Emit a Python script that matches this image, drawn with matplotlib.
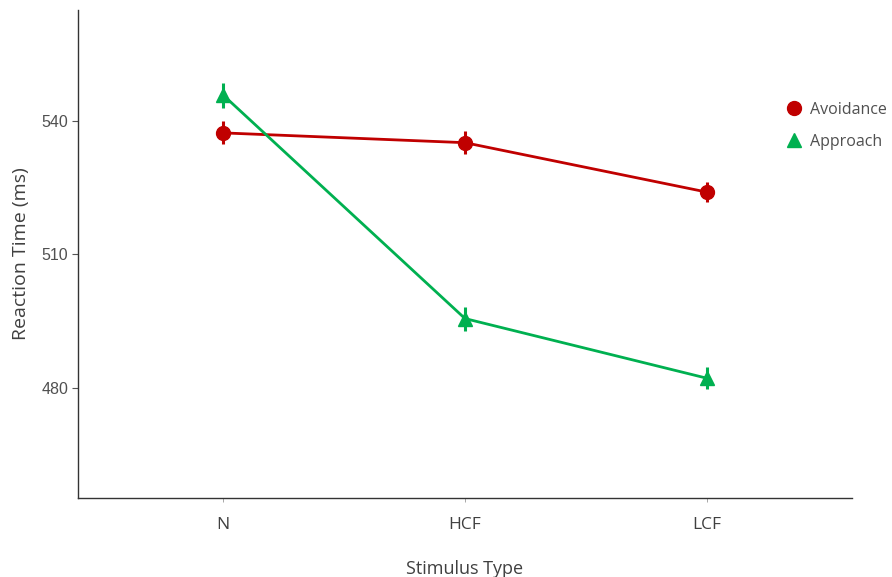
import matplotlib
matplotlib.use("Agg")
import matplotlib.pyplot as plt
from matplotlib.lines import Line2D

categories = ["N", "HCF", "LCF"]
avoidance = [537.3, 535.1, 524.0]
avoidance_err = [2.6, 2.6, 2.3]
approach = [545.8, 495.6, 482.2]
approach_err = [2.8, 2.7, 2.5]
yticks = [480, 510, 540]

RED = "#C00000"
GREEN = "#00B050"

fig = plt.figure(figsize=(8.92, 5.77), dpi=100)
ax = fig.add_axes([78/892, 1-498/577, (852-78)/892, (498-10)/577])

x = list(range(1, len(categories) + 1))
ax.errorbar(x, avoidance, yerr=avoidance_err, color=RED, marker="o", markersize=10,
            linewidth=2, elinewidth=2.2, capsize=0, zorder=3)
ax.errorbar(x, approach, yerr=approach_err, color=GREEN, marker="^", markersize=10,
            linewidth=2, elinewidth=2.2, capsize=0, zorder=3)

ax.set_xlim(0.4, 3.6)
ax.set_ylim(455.3, 564.9)
ax.set_xticks(x)
ax.set_xticklabels(categories, fontfamily="Open Sans", fontsize=12.5, color="#404040")
ax.set_yticks(yticks)
ax.set_yticklabels([str(v) for v in yticks], fontfamily="Liberation Sans", fontsize=11.5, color="#505050")
ax.tick_params(axis="y", length=4, width=0.8, color="#555555", pad=3)
ax.tick_params(axis="x", length=3, width=0.6, color="#999999", pad=11)

for s in ["top", "right"]:
    ax.spines[s].set_visible(False)
for s in ["left", "bottom"]:
    ax.spines[s].set_color("#333333")
    ax.spines[s].set_linewidth(1.0)

ax.set_xlabel("Stimulus Type", fontfamily="Open Sans", fontsize=13, color="#404040", labelpad=19)
ax.set_ylabel("Reaction Time (ms)", fontfamily="Open Sans", fontsize=14, color="#404040", labelpad=8)

handles = [
    Line2D([], [], color=RED, marker="o", linestyle="none", markersize=10),
    Line2D([], [], color=GREEN, marker="^", linestyle="none", markersize=10),
]
leg = fig.legend(handles, ["Avoidance", "Approach"], loc="center left",
                 bbox_to_anchor=(770/892, 1-126/577), frameon=False,
                 prop={"family": "Open Sans", "size": 11.5}, labelspacing=1.0,
                 handletextpad=0.4, handlelength=1.2)
for t in leg.get_texts():
    t.set_color("#505050")

fig.savefig("out.png", dpi=100)
